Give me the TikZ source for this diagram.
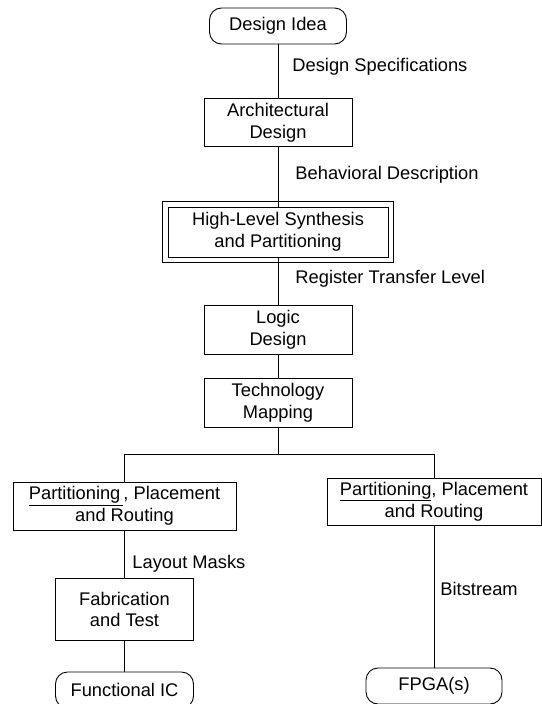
\documentclass[tikz,border=0pt]{standalone}
\usepackage{fontspec}
\setmainfont{Liberation Sans}
\usetikzlibrary{positioning}

\begin{document}
\begin{tikzpicture}[
    x=1bp, y=-1bp, line width=0.9bp,
    every node/.style={font=\fontsize{18.3bp}{21.7bp}\selectfont},
    box/.style={rectangle, draw, inner sep=0pt, align=center},
    stepbox/.style={box, minimum width=148bp, minimum height=48.5bp},
    term/.style={box, rounded corners=12bp, minimum height=36bp},
    note/.style={anchor=west, inner sep=0pt}
]
    \useasboundingbox (0,0) rectangle (542,704);

    % Nodes
    \node[term, minimum width=137bp] (idea) at (278,26) {Design Idea};
    \node[stepbox] (arch) at (278,122.5) {Architectural\\Design};
    \node[box, minimum width=220bp, minimum height=50bp] (hls) at (278,232)
        {High-Level Synthesis\\and Partitioning};
    \draw ([shift={(-5,-5.5)}]hls.north west) rectangle ([shift={(5,5)}]hls.south east);
    \node[stepbox] (logic) at (278,330) {Logic\\Design};
    \node[stepbox] (techmap) at (278,403) {Technology\\Mapping};
    \coordinate (split) at (278,454);
    \node[box, minimum width=223bp, minimum height=48bp] (pprleft) at (124.5,506)
        {\underline{Partitioning\,}, Placement\\and Routing};
    \node[box, minimum width=214bp, minimum height=47bp] (pprright) at (434,501.5)
        {\underline{Partitioning}, Placement\\and Routing};
    \node[box, minimum width=138bp, minimum height=62bp] (fab) at (124.5,609.5) {Fabrication\\and Test};
    \node[term, minimum width=138bp] (ic) at (124.5,690) {Functional IC};
    \node[term, minimum width=136bp] (fpga) at (434,686) {FPGA(s)};

    % Labels
    \node[note] (specs) at (292,67) {Design Specifications};
    \node[note] (behav) at (295,175) {Behavioral Description};
    \node[note] (rtl) at (295,279) {Register Transfer Level};
    \node[note] (masks) at (132,564) {Layout Masks};
    \node[note] (bits) at (440,589) {Bitstream};

    % Lines
    \draw (idea) -- (arch);
    \draw (arch) -- (hls);
    \draw (hls) -- (logic);
    \draw (logic) -- (techmap);
    \draw (techmap) -- (split);
    \draw (split) -| (pprleft.north);
    \draw (split) -| (pprright.north);
    \draw (pprleft) -- (fab);
    \draw (fab) -- (ic);
    \draw (pprright) -- (fpga);
\end{tikzpicture}
\end{document}
